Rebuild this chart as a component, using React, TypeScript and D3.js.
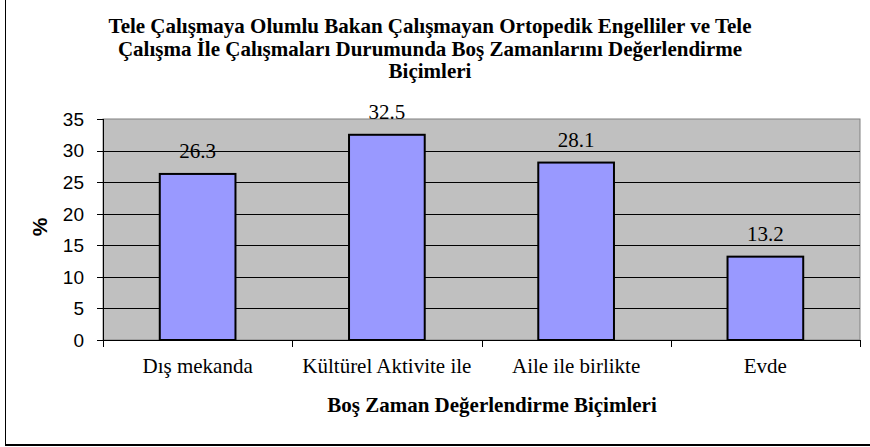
import React from "react";
import * as d3 from "d3";

const categories: string[] = ["Dış mekanda", "Kültürel Aktivite ile", "Aile ile birlikte", "Evde"];
const values: number[] = [26.3, 32.5, 28.1, 13.2];
const yTicks: number[] = [0, 5, 10, 15, 20, 25, 30, 35];
const titleLines: string[] = [
  "Tele Çalışmaya Olumlu Bakan Çalışmayan Ortopedik Engelliler ve Tele",
  "Çalışma İle Çalışmaları Durumunda Boş Zamanlarını Değerlendirme",
  "Biçimleri",
];
const xTitle = "Boş Zaman Değerlendirme Biçimleri";
const yTitle = "%";

const W = 870;
const H = 447;
const plot = { left: 103, right: 860, top: 119, bottom: 340 };

export default function App() {
  const x = d3
    .scaleBand<string>()
    .domain(categories)
    .range([plot.left, plot.right])
    .paddingInner(0.6)
    .paddingOuter(0.3);
  const y = d3.scaleLinear().domain([0, 35]).range([plot.bottom, plot.top]);
  const step = (plot.right - plot.left) / categories.length;
  const boundaries = d3.range(categories.length + 1).map((i) => plot.left + i * step);

  const serif = "Liberation Serif";
  const sans = "Liberation Sans";

  return (
    <svg
      width={W}
      height={H}
      style={{ position: "absolute", left: 0, top: 0, background: "#fff" }}
    >
      <rect x={0} y={0} width={W} height={H} fill="#fff" />
      {/* frame */}
      <line x1={5.5} y1={0} x2={5.5} y2={446} stroke="#000" strokeWidth={1} />
      <line x1={5} y1={445} x2={W} y2={445} stroke="#000" strokeWidth={2} />

      {/* title */}
      <text
        fontFamily={serif}
        fontWeight="bold"
        fontSize={21}
        textAnchor="middle"
        fill="#000"
      >
        {titleLines.map((t, i) => (
          <tspan key={i} x={430} y={33 + i * 22.5}>
            {t}
          </tspan>
        ))}
      </text>

      {/* plot background */}
      <rect
        x={plot.left}
        y={plot.top}
        width={plot.right - plot.left}
        height={plot.bottom - plot.top}
        fill="#C0C0C0"
        stroke="#808080"
        strokeWidth={1}
      />
      {/* gridlines */}
      {yTicks
        .filter((t) => t > 0 && t < 35)
        .map((t) => (
          <line
            key={t}
            x1={plot.left}
            x2={plot.right}
            y1={Math.round(y(t)) + 0.5}
            y2={Math.round(y(t)) + 0.5}
            stroke="#000"
            strokeWidth={1}
          />
        ))}

      {/* bars */}
      {categories.map((c, i) => (
        <rect
          key={c}
          x={x(c)!}
          y={y(values[i])}
          width={x.bandwidth()}
          height={plot.bottom - y(values[i])}
          fill="#9999FF"
          stroke="#000"
          strokeWidth={2}
        />
      ))}

      {/* value labels */}
      {categories.map((c, i) => (
        <text
          key={c}
          x={x(c)! + x.bandwidth() / 2}
          y={y(values[i]) - 16}
          textAnchor="middle"
          fontFamily={serif}
          fontSize={21}
          fill="#000"
        >
          {values[i].toFixed(1)}
        </text>
      ))}

      {/* y axis */}
      <line x1={plot.left + 0.5} x2={plot.left + 0.5} y1={plot.top} y2={plot.bottom} stroke="#000" strokeWidth={1} />
      {yTicks.map((t) => (
        <g key={t}>
          <line
            x1={plot.left - 6}
            x2={plot.left}
            y1={Math.round(y(t)) + 0.5}
            y2={Math.round(y(t)) + 0.5}
            stroke="#000"
            strokeWidth={1}
          />
          <text
            x={84}
            y={y(t)}
            dy="0.36em"
            textAnchor="end"
            fontFamily={sans}
            fontSize={19}
            fill="#000"
          >
            {t}
          </text>
        </g>
      ))}
      <text
        transform={`translate(47, 227) rotate(-90)`}
        textAnchor="middle"
        fontFamily={sans}
        fontWeight="bold"
        fontSize={21}
        fill="#000"
      >
        {yTitle}
      </text>

      {/* x axis */}
      <line x1={plot.left} x2={plot.right} y1={plot.bottom + 0.5} y2={plot.bottom + 0.5} stroke="#000" strokeWidth={1} />
      {boundaries.map((b, i) => (
        <line
          key={i}
          x1={Math.round(b) + 0.5}
          x2={Math.round(b) + 0.5}
          y1={plot.bottom}
          y2={plot.bottom + 7}
          stroke="#000"
          strokeWidth={1}
        />
      ))}
      {categories.map((c) => (
        <text
          key={c}
          x={x(c)! + x.bandwidth() / 2}
          y={373}
          textAnchor="middle"
          fontFamily={serif}
          fontSize={21}
          fill="#000"
        >
          {c}
        </text>
      ))}
      <text
        x={492}
        y={412}
        textAnchor="middle"
        fontFamily={serif}
        fontWeight="bold"
        fontSize={21}
        fill="#000"
      >
        {xTitle}
      </text>
    </svg>
  );
}
